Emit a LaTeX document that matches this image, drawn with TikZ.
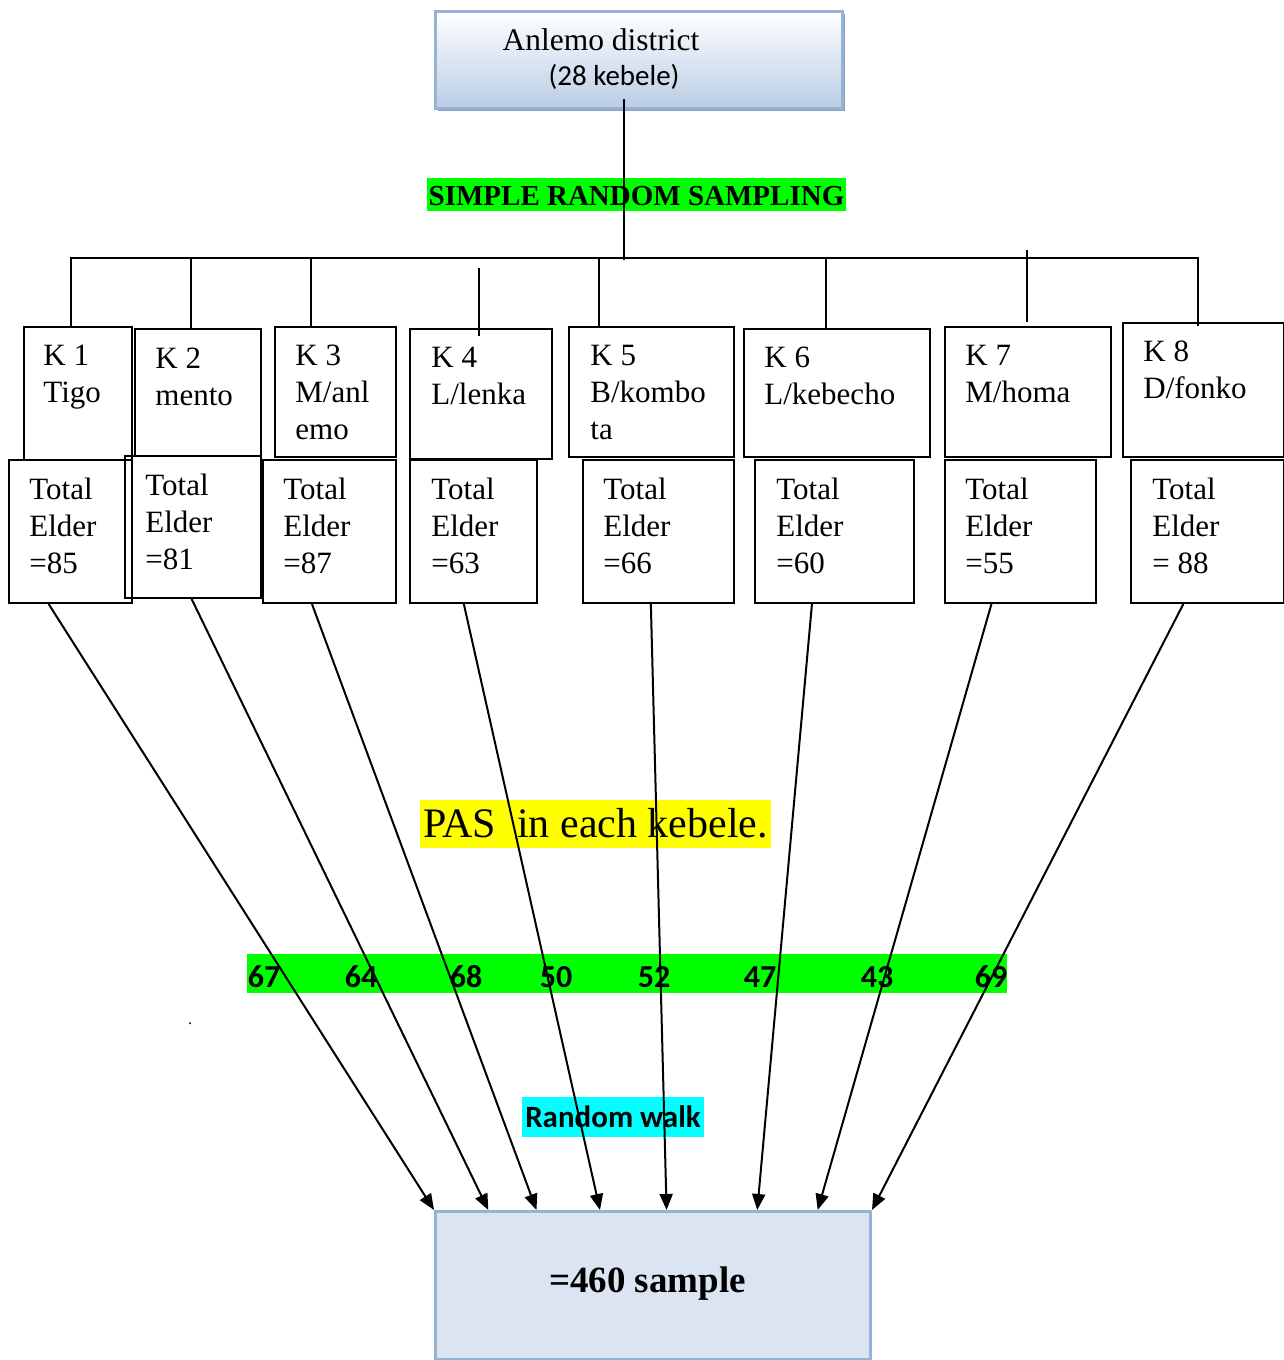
\documentclass[tikz,border=0pt]{standalone}
\usepackage{fontspec}
\setmainfont{Liberation Serif}
\newfontfamily\calibri{Carlito}
\usepackage{tikz}
\usetikzlibrary{arrows.meta,calc,positioning}
\definecolor{DistBlue}{HTML}{B9CDE5}
\definecolor{DistBorder}{HTML}{95B3D7}
\definecolor{DistShadow}{HTML}{8C9DB5}
\definecolor{SampleFill}{HTML}{DBE5F1}
\definecolor{SrsGreen}{HTML}{00FF00}
\definecolor{PasYellow}{HTML}{FFFF00}
\definecolor{WalkCyan}{HTML}{00FFFF}

\begin{document}
\begin{tikzpicture}[x=0.5pt,y=-0.5pt]
  \useasboundingbox (0,0) rectangle (1284,1360);
  \tikzstyle{kbox} = [draw=black, line width=1pt, anchor=north west, inner sep=0pt]
  \tikzstyle{lbl} = [anchor=base west, align=left, inner sep=0pt, font=\fontsize{15.5}{18.5}\selectfont]
  \tikzstyle{hl} = [anchor=base, inner xsep=1pt, inner ysep=0pt]
  \tikzstyle{num} = [anchor=base, inner sep=0pt, font=\calibri\bfseries\fontsize{16}{18}\selectfont]
  \tikzstyle{arr} = [line width=1pt, -{Triangle[length=8pt,width=6.5pt]}]

  % district
  \fill[DistShadow] (438,14) rectangle (845,111);
  \node[kbox, draw=DistBorder, line width=1.5pt, top color=white, bottom color=DistBlue,
        minimum width=203.5pt, minimum height=48.5pt] (dist) at (434,10) {};
  \node[anchor=base, inner sep=0pt, font=\fontsize{15.75}{18}\selectfont] (distname) at (601,50) {Anlemo district};
  \node[anchor=base, inner sep=0pt, font=\calibri\fontsize{14.5}{18}\selectfont] (distcnt) at (614,85) {(28 kebele)};

  \node[hl, fill=SrsGreen, text height=13.5pt, text depth=3pt,
        font=\bfseries\fontsize{14.5}{17}\selectfont] (srs) at (636.5,205) {SIMPLE RANDOM SAMPLING};

  % kebele boxes
  \node[kbox, minimum width=54pt, minimum height=66.5pt] (k1) at (23,326) {};
  \node[kbox, minimum width=63pt, minimum height=63.5pt] (k2) at (134,328) {};
  \node[kbox, minimum width=60.5pt, minimum height=65pt] (k3) at (274,326) {};
  \node[kbox, minimum width=71pt, minimum height=65pt] (k4) at (409,328) {};
  \node[kbox, minimum width=82.5pt, minimum height=65pt] (k5) at (568,326) {};
  \node[kbox, minimum width=93pt, minimum height=64pt] (k6) at (743,328) {};
  \node[kbox, minimum width=83pt, minimum height=65pt] (k7) at (944,326) {};
  \node[kbox, minimum width=80.5pt, minimum height=67pt] (k8) at (1122,322) {};

  % base = last line
  \node[lbl] (k1name) at (43,402) {K 1\\Tigo};
  \node[lbl] (k2name) at (155,405) {K 2\\mento};
  \node[lbl] (k3name) at (295,439) {K 3\\M/anl\\emo};
  \node[lbl] (k4name) at (431,404) {K 4\\L/lenka};
  \node[lbl] (k5name) at (590,439) {K 5\\B/kombo\\ta};
  \node[lbl] (k6name) at (764,404) {K 6\\L/kebecho};
  \node[lbl] (k7name) at (965,402) {K 7\\M/homa};
  \node[lbl] (k8name) at (1143,398) {K 8\\D/fonko};

  % total elder boxes
  \node[kbox, minimum width=61.5pt, minimum height=71.5pt] (t1) at (8,459) {};
  \node[kbox, minimum width=68pt, minimum height=71pt] (t2) at (124,455) {};
  \node[kbox, minimum width=66.5pt, minimum height=71.5pt] (t3) at (262,459) {};
  \node[kbox, minimum width=63.5pt, minimum height=71.5pt] (t4) at (409,459) {};
  \node[kbox, minimum width=75.5pt, minimum height=71.5pt] (t5) at (582,459) {};
  \node[kbox, minimum width=79.5pt, minimum height=71.5pt] (t6) at (754,459) {};
  \node[kbox, minimum width=75.5pt, minimum height=71.5pt] (t7) at (944,459) {};
  \node[kbox, minimum width=76.5pt, minimum height=71.5pt] (t8) at (1130,459) {};

  \node[lbl] (t1name) at (29,573) {Total\\Elder\\=85};
  \node[lbl] (t2name) at (145,569) {Total\\Elder\\=81};
  \node[lbl] (t3name) at (283,573) {Total\\Elder\\=87};
  \node[lbl] (t4name) at (431,573) {Total\\Elder\\=63};
  \node[lbl] (t5name) at (603,573) {Total\\Elder\\=66};
  \node[lbl] (t6name) at (776,573) {Total\\Elder\\=60};
  \node[lbl] (t7name) at (965,573) {Total\\Elder\\=55};
  \node[lbl] (t8name) at (1152,573) {Total\\Elder\\= 88};

  % tree
  \coordinate (hub) at (624,258);
  \coordinate (busL) at (71,258);
  \coordinate (busR) at (1198,258);
  \coordinate (b2) at (191,258);
  \coordinate (b3) at (311,258);
  \coordinate (b4) at (479,268);
  \coordinate (b5) at (599,258);
  \coordinate (b6) at (826,258);
  \coordinate (b7) at (1027,250);
  \draw[line width=1pt] ($(dist.south -| hub)+(0,-11)$) -- ($(hub)+(0,2)$);
  \draw[line width=1pt] (busL |- k1.north) -- (busL) -- (busR) -- ($(busR |- k8.north)+(0,4)$);
  \draw[line width=1pt] (b2) -- (b2 |- k2.north);
  \draw[line width=1pt] (b3) -- (b3 |- k3.north);
  \draw[line width=1pt] (b4) -- ($(b4 |- k4.north)+(0,8)$);
  \draw[line width=1pt] (b5) -- (b5 |- k5.north);
  \draw[line width=1pt] (b6) -- (b6 |- k6.north);
  \draw[line width=1pt] (b7) -- ($(b7 |- k7.north)+(0,-4)$);

  % sampling labels
  \node[hl, fill=PasYellow, inner xsep=1.5pt, text height=18.5pt, text depth=5.5pt,
        font=\fontsize{21}{24}\selectfont] (pas) at (595.5,837) {PAS\ \ in each kebele.};

  \node[fill=SrsGreen, inner sep=0pt, minimum width=380pt, minimum height=19.5pt] (numbar) at (627,973.5) {};
  \node[num] (n1) at (264,987) {67};
  \node[num] (n2) at (361,987) {64};
  \node[num] (n3) at (466,987) {68};
  \node[num] (n4) at (556,987) {50};
  \node[num] (n5) at (654,987) {52};
  \node[num] (n6) at (760,987) {47};
  \node[num] (n7) at (877,987) {43};
  \node[num] (n8) at (991,987) {69};

  \node[inner sep=0pt, font=\fontsize{8}{8}\selectfont] (dot) at (190,1024) {.};

  \node[hl, fill=WalkCyan, inner xsep=1.5pt, text height=15pt, text depth=4.75pt,
        font=\calibri\bfseries\fontsize{15.5}{18}\selectfont] (walk) at (613,1127) {Random walk};

  % sample
  \fill[DistShadow] (438,1214) rectangle (872,1360);
  \node[kbox, draw=DistBorder, line width=1.5pt, fill=SampleFill,
        minimum width=217.5pt, minimum height=74pt] (sample) at (434,1210) {};
  \node[anchor=base, inner sep=0pt, font=\bfseries\fontsize{18.5}{22}\selectfont] (samplename) at (647.5,1292) {=460 sample};

  % arrows
  \draw[arr] ($(t1.south west)!.325!(t1.south east)$) -- ($(sample.north west)!0!(sample.north east)$);
  \draw[arr] ($(t2.south west)!.49!(t2.south east)$) -- ($(sample.north west)!.124!(sample.north east)$);
  \draw[arr] ($(t3.south west)!.37!(t3.south east)$) -- ($(sample.north west)!.234!(sample.north east)$);
  \draw[arr] ($(t4.south west)!.425!(t4.south east)$) -- ($(sample.north west)!.379!(sample.north east)$);
  \draw[arr] ($(t5.south west)!.45!(t5.south east)$) -- ($(sample.north west)!.531!(sample.north east)$);
  \draw[arr] ($(t6.south west)!.36!(t6.south east)$) -- ($(sample.north west)!.738!(sample.north east)$);
  \draw[arr] ($(t7.south west)!.31!(t7.south east)$) -- ($(sample.north west)!.876!(sample.north east)$);
  \draw[arr] ($(t8.south west)!.344!(t8.south east)$) -- ($(sample.north west)!1!(sample.north east)$);
\end{tikzpicture}
\end{document}
